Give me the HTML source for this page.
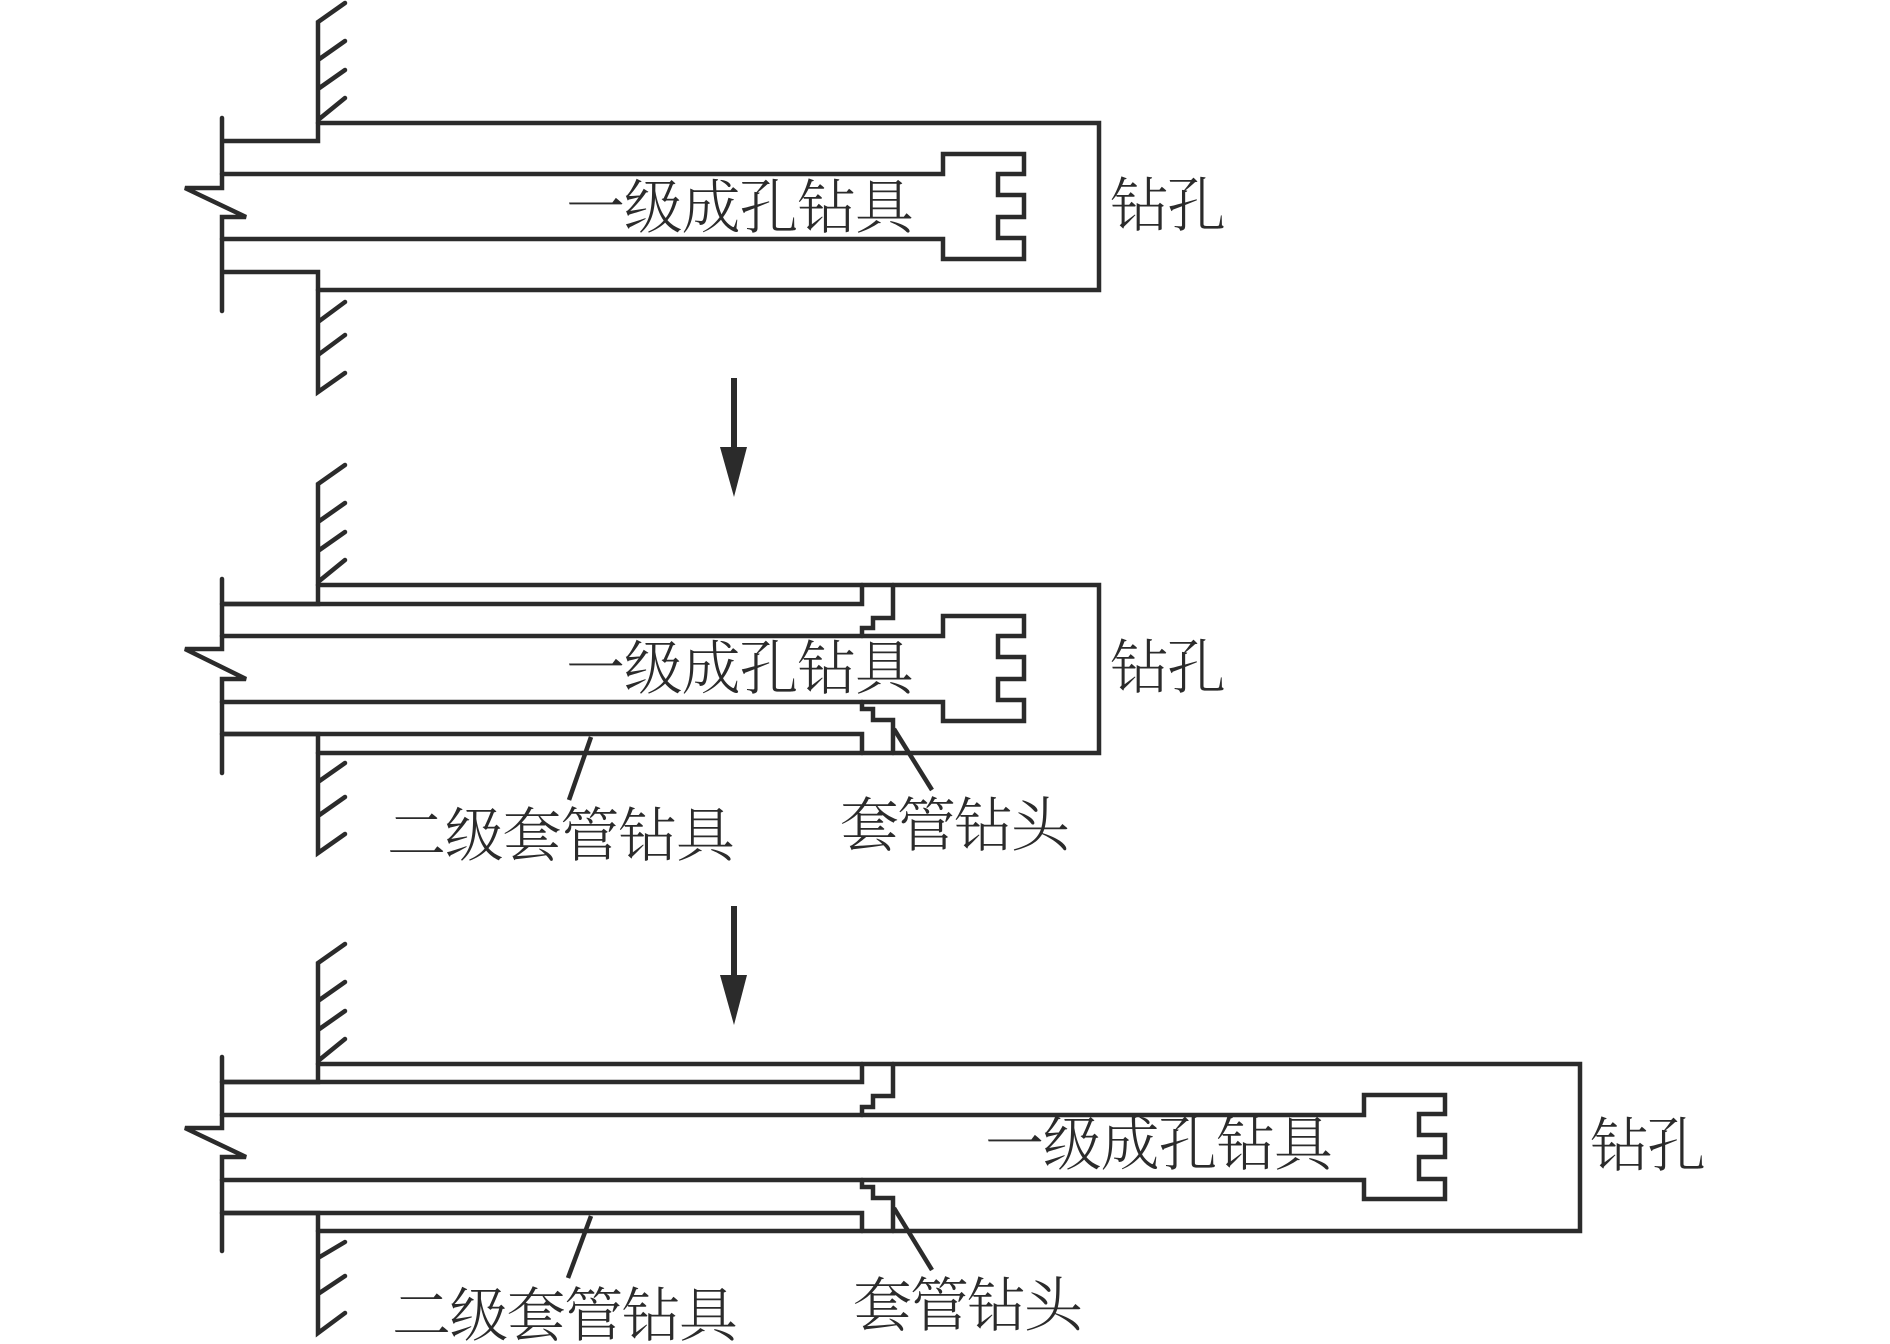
<!DOCTYPE html>
<html><head><meta charset="utf-8"><style>
html,body{margin:0;padding:0;background:#fff;width:1890px;height:1344px;overflow:hidden}
svg{display:block}
path{fill:none;stroke:#2b2b2b;stroke-width:4.5;stroke-linejoin:miter;stroke-linecap:round}
text{font-family:"Liberation Serif","Noto Serif CJK SC",serif;font-size:59px;font-weight:300;fill:#2b2b2b}
</style></head><body>
<svg width="1890" height="1344" viewBox="0 0 1890 1344" xmlns="http://www.w3.org/2000/svg">
<!-- Diagram 1 -->
<path d="M345 3L318 22V141H222M222 118V188H185L246 217H222V311M222 272H318V392L345 373M318 355L345 335M318 322L345 302M318 60L345 41M318 89L345 70M318 120L345 98"/>
<path d="M318 123H1099V290H318"/>
<path d="M222 174H943V154H1024V174H998V195H1024V217H998V238H1024V259H943V239H222"/>
<text x="566" y="228" textLength="348">一级成孔钻具</text>
<text x="1110" y="226" textLength="116">钻孔</text>
<!-- Arrow 1 -->
<path d="M734 378V447" style="stroke-width:6;stroke-linecap:butt"/>
<polygon points="720,447 747,447 734,497" fill="#2b2b2b"/>
<!-- Diagram 2 -->
<path d="M345 465L318 484V604H222M222 579V649H185L246 679H222V773M222 734H318V853L345 834M318 816L345 797M318 782L345 763M318 522L345 503M318 551L345 532M318 582L345 560"/>
<path d="M318 585H1099V753H318"/>
<path d="M222 636H943V616H1024V636H998V657H1024V679H998V700H1024V721H943V702H222"/>
<path d="M222 604H862V585M222 734H862V753M862 636V628H873V618H893V585M862 702V709H873V720H893V753"/>
<path d="M894 729L932 790" style="stroke-linecap:butt"/>
<path d="M591 737L569 800" style="stroke-linecap:butt"/>
<text x="566" y="689" textLength="348">一级成孔钻具</text>
<text x="1110" y="688" textLength="116">钻孔</text>
<text x="387" y="856" textLength="348">二级套管钻具</text>
<text x="840" y="846" textLength="230">套管钻头</text>
<!-- Arrow 2 -->
<path d="M734 906V975" style="stroke-width:6;stroke-linecap:butt"/>
<polygon points="720,975 747,975 734,1025" fill="#2b2b2b"/>
<!-- Diagram 3 -->
<path d="M345 944L318 963V1082H222M222 1057V1128H185L246 1157H222V1251M222 1213H318V1333L345 1313M318 1294L345 1276M318 1258L345 1242M318 1001L345 982M318 1030L345 1011M318 1061L345 1039"/>
<path d="M318 1064H1580V1231H318"/>
<path d="M222 1115H1364V1095H1445V1114H1419V1135H1445V1157H1419V1179H1445V1199H1364V1180H222"/>
<path d="M222 1082H862V1064M222 1213H862V1231M862 1115V1107H873V1096H893V1064M862 1180V1187H873V1198H893V1231"/>
<path d="M894 1208L932 1270" style="stroke-linecap:butt"/>
<path d="M591 1216L568 1278" style="stroke-linecap:butt"/>
<text x="985" y="1165" textLength="348">一级成孔钻具</text>
<text x="1590" y="1166" textLength="116">钻孔</text>
<text x="392" y="1336" textLength="346">二级套管钻具</text>
<text x="853" y="1326" textLength="230">套管钻头</text>
</svg>
</body></html>
